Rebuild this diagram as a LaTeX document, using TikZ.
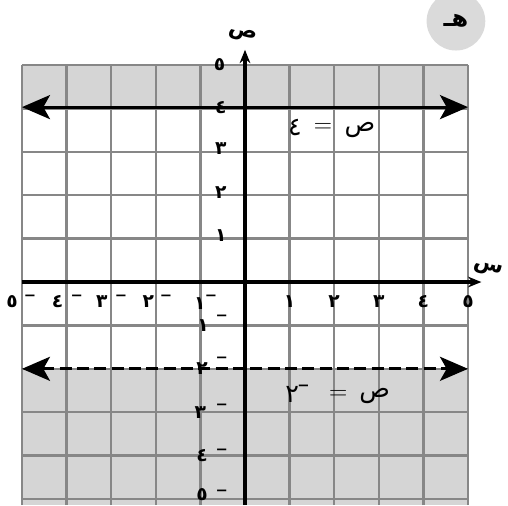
\documentclass[tikz,border=0pt]{standalone}
\usepackage{fontspec}
\newfontfamily\ar[Script=Arabic]{DejaVu Sans}
\usetikzlibrary{arrows.meta}
\TeXXeTstate=1
\definecolor{gridgray}{HTML}{878787}
\definecolor{shadegray}{HTML}{D5D5D5}
\definecolor{badgegray}{HTML}{DADADA}
\begin{document}
\begin{tikzpicture}[x=33.45pt,y=32.55pt,
  gridline/.style={draw=gridgray,line width=1.7pt},
  axisline/.style={draw=black,line width=2.3pt},
  bigline/.style={draw=black,line width=2.3pt,{Stealth[length=21pt,width=18pt,inset=5pt]}-{Stealth[length=21pt,width=18pt,inset=5pt]}},
  axisarrow/.style={-{Stealth[length=10pt,width=8pt]}},
  num/.style={font=\ar\bfseries\fontsize{14}{14}\selectfont,inner sep=0pt},
  mns/.style={font=\ar\bfseries\fontsize{11}{11}\selectfont,inner sep=0pt},
  eqtext/.style={font=\ar\fontsize{19}{19}\selectfont,inner sep=0pt},
  eqsign/.style={font=\fontsize{19}{19}\selectfont,inner sep=0pt},
  axlabel/.style={font=\ar\bfseries\fontsize{16}{16}\selectfont,inner sep=0pt}]
\useasboundingbox (-5.493,-5.138) rectangle (5.897,6.498);
% shading
\fill[shadegray] (-5,4) rectangle (5,5);
\fill[shadegray] (-5,-5.138) rectangle (5,-2);
% grid
\foreach \i in {-5,...,5} \draw[gridline] (\i,-5.138) -- (\i,5);
\foreach \j in {-5,...,5} \draw[gridline] (-5,\j) -- (5,\j);
% axes
\coordinate (xs) at (-5,0);
\coordinate (xe) at (5.3,0);
\coordinate (ys) at (0,-5.138);
\coordinate (ye) at (0,5.35);
\draw[axisline,axisarrow] (xs) -- (xe);
\draw[axisline,axisarrow] (ys) -- (ye);
\node[axlabel,rotate=-15] (xlab) at (5.46,0.3) {س};
\node[axlabel,rotate=-15] (ylab) at (-0.05,5.7) {ص};
% lines y=4 and y=-2
\coordinate (a1) at (-5,4.03);
\coordinate (a2) at (5,4.03);
\draw[bigline] (a1) -- (a2);
\coordinate (b1) at (-5,-2);
\coordinate (b2) at (5,-2);
\draw[bigline,dash pattern=on 9pt off 4pt] (b1) -- (b2);
% x labels
\node[num] (xp1) at (1,-0.46) {١};
\node[num] (xp2) at (2,-0.46) {٢};
\node[num] (xp3) at (3,-0.46) {٣};
\node[num] (xp4) at (4,-0.46) {٤};
\node[num] (xp5) at (5,-0.46) {٥};
\node[num] (xn1) at (-1.01,-0.5) {١};
\node[num] (xn2) at (-2.17,-0.46) {٢};
\node[num] (xn3) at (-3.21,-0.46) {٣};
\node[num] (xn4) at (-4.2,-0.46) {٤};
\node[num] (xn5) at (-5.22,-0.46) {٥};
\node[mns] (mx1) at (-0.76,-0.36) {−};
\node[mns] (mx2) at (-1.77,-0.36) {−};
\node[mns] (mx3) at (-2.78,-0.36) {−};
\node[mns] (mx4) at (-3.77,-0.36) {−};
\node[mns] (mx5) at (-4.82,-0.36) {−};
% y labels
\node[num] (yp1) at (-0.54,1.07) {١};
\node[num] (yp2) at (-0.54,2.07) {٢};
\node[num] (yp3) at (-0.54,3.07) {٣};
\node[num] (yp4) at (-0.54,4.03) {٤};
\node[num] (yp5) at (-0.57,5.0) {٥};
\node[num] (yn1) at (-0.94,-1.0) {١};
\node[num] (yn2) at (-0.96,-2.0) {٢};
\node[num] (yn3) at (-1.0,-3.0) {٣};
\node[num] (yn4) at (-0.96,-4.0) {٤};
\node[num] (yn5) at (-0.96,-4.9) {٥};
\node[mns] (my1) at (-0.52,-0.83) {−};
\node[mns] (my2) at (-0.52,-1.8) {−};
\node[mns] (my3) at (-0.52,-2.88) {−};
\node[mns] (my4) at (-0.52,-3.9) {−};
\node[mns] (my5) at (-0.52,-4.85) {−};
% equations
\node[eqtext] (e1a) at (1.12,3.55) {٤};
\node[eqsign] (e1b) at (1.75,3.55) {=};
\node[eqtext] (e1c) at (2.58,3.5) {ص};
\node[eqtext] (e2a) at (1.06,-2.6) {٢};
\node[mns] (e2m) at (1.31,-2.43) {−};
\node[eqsign] (e2b) at (2.09,-2.6) {=};
\node[eqtext] (e2c) at (2.91,-2.63) {ص};
% badge
\node[circle,fill=badgegray,minimum size=44pt,inner sep=0pt,font=\ar\bfseries\fontsize{18}{18}\selectfont] (badge) at (4.73,6.01) {\beginR هـ\endR};
\end{tikzpicture}
\end{document}
